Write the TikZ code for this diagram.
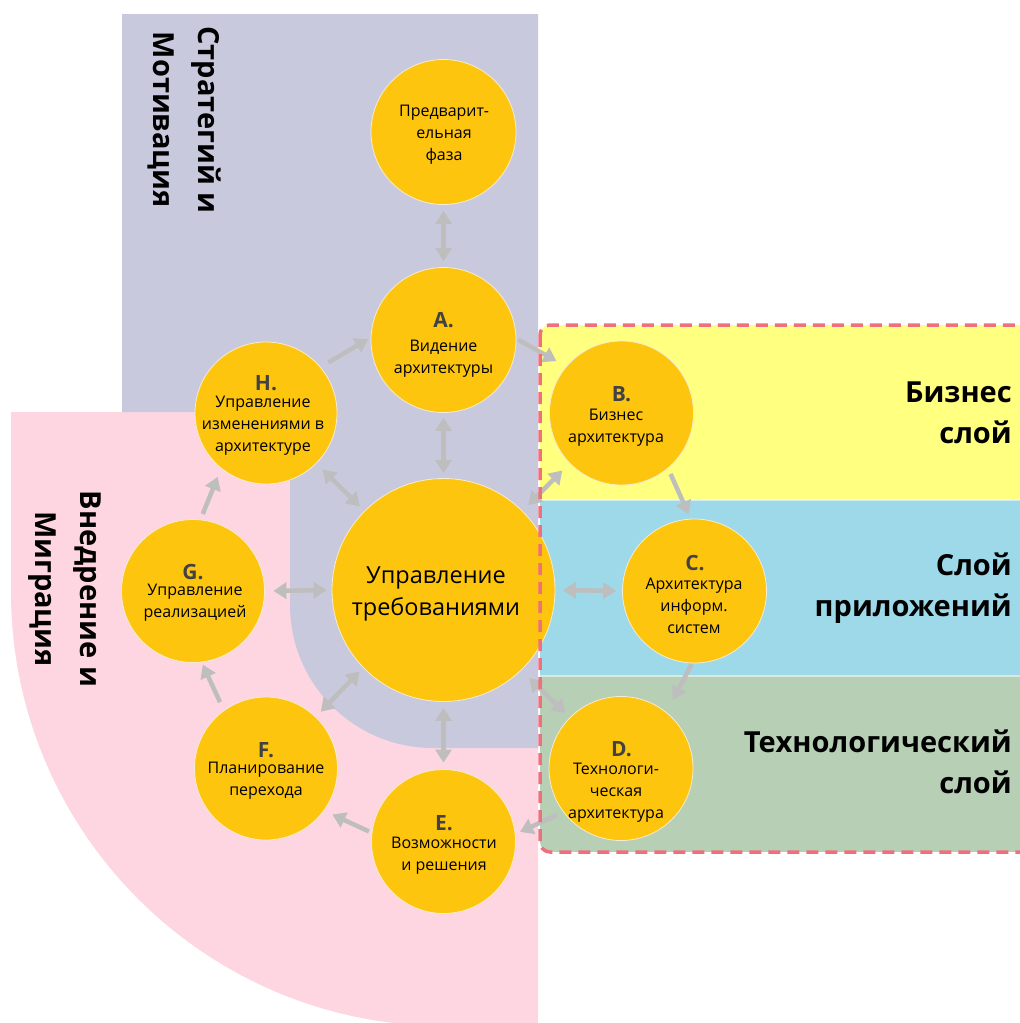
\documentclass[tikz,border=0pt]{standalone}
\usepackage{fontspec}
\setmainfont{Open Sans}
\usetikzlibrary{arrows.meta}

\definecolor{lav}{RGB}{201,201,222}
\definecolor{rose}{RGB}{253,214,225}
\definecolor{bizY}{RGB}{255,255,128}
\definecolor{appB}{RGB}{157,217,232}
\definecolor{techG}{RGB}{182,207,181}
\definecolor{discY}{RGB}{254,197,14}
\definecolor{discEdge}{RGB}{246,236,210}
\definecolor{arrowgray}{RGB}{190,190,190}
\definecolor{dashred}{RGB}{239,112,124}
\definecolor{lettergray}{RGB}{66,66,66}

\begin{document}
\begin{tikzpicture}[x=1pt,y=-1pt,
  disc/.style={circle,fill=discY,draw=discEdge,line width=0.8pt,minimum size=#1,inner sep=0pt},
  body/.style={font=\fontsize{16}{22}\selectfont,align=center,inner sep=0pt},
  bigbody/.style={font=\fontsize{23.5}{32}\selectfont,align=center,inner sep=0pt},
  letter/.style={font=\bfseries\fontsize{21}{24}\selectfont,text=lettergray,inner sep=0pt},
  layer/.style={font=\bfseries\fontsize{29}{41}\selectfont,align=right,anchor=east,inner sep=0pt},
  side/.style={font=\bfseries\fontsize{29}{45}\selectfont,align=center,rotate=-90,inner sep=0pt},
  arr/.style={draw=arrowgray,line width=4.5pt,-{Triangle[length=13pt,width=16pt]}},
  arrtwo/.style={draw=arrowgray,line width=4.5pt,{Triangle[length=13pt,width=16pt]}-{Triangle[length=13pt,width=16pt]}}
]
\useasboundingbox (0,0) rectangle (1020,1023);
\clip (0,0) rectangle (1020,1023);

% migration quarter (pink)
\begin{scope}
  \clip (11,412) rectangle (538,1023);
  \fill[rose] (11,412) rectangle (538,592);
  \fill[rose] (445,412) rectangle (538,1023);
  \fill[rose] (445,592) circle[radius=434];
\end{scope}

% strategy area (lavender)
\fill[lav] (122,14) -- (538,14) -- (538,748) -- (433,748)
  arc[start angle=90,end angle=180,radius=143] -- (290,412) -- (122,412) -- cycle;

% architecture layers
\begin{scope}
  \clip[rounded corners=10pt] (540,325) rectangle (1060,852);
  \fill[bizY] (540,325) rectangle (1060,500);
  \fill[appB] (540,500) rectangle (1060,676);
  \fill[techG] (540,676) rectangle (1060,852);
  \draw[white,opacity=0.5,line width=1.5pt] (540,500) -- (1060,500) (540,676) -- (1060,676);
\end{scope}

% phases
\node[disc=145pt] (P) at (443.5,132) {};
\node[disc=145pt] (A) at (443.5,340) {};
\node[disc=142pt] (H) at (266,413) {};
\node[disc=144pt] (B) at (621.5,413) {};
\node[disc=223pt] (R) at (443.5,590) {};
\node[disc=144pt] (C) at (694.5,591) {};
\node[disc=144pt] (D) at (621,768.5) {};
\node[disc=144pt] (E) at (443.5,841.5) {};
\node[disc=143pt] (F) at (266,768.5) {};
\node[disc=143pt] (G) at (193,591) {};

% phase texts
\node[body] (P-t) at (444,135) {Предварит-\\ельная\\фаза};
\node[letter] (A-l) at (443.5,320) {A.};
\node[body] (A-t) at (443.5,359) {Видение\\архитектуры};
\node[letter] (H-l) at (266,383) {H.};
\node[body] (H-t) at (263,426) {Управление\\изменениями в\\архитектуре};
\node[letter] (B-l) at (621.5,394) {B.};
\node[body] (B-t) at (616,428) {Бизнес\\архитектура};
\node[bigbody] (R-t) at (436,594) {Управление\\требованиями};
\node[letter] (C-l) at (695,563) {C.};
\node[body] (C-t) at (694,606) {Архитектура\\информ.\\систем};
\node[letter] (D-l) at (621.5,749) {D.};
\node[body] (D-t) at (616,793) {Технологи-\\ческая\\архитектура};
\node[letter] (E-l) at (444,823) {E.};
\node[body] (E-t) at (444,856) {Возможности\\и решения};
\node[letter] (F-l) at (266,750) {F.};
\node[body] (F-t) at (266,781) {Планирование\\перехода};
\node[letter] (G-l) at (193,572) {G.};
\node[body] (G-t) at (195,603) {Управление\\реализацией};

% connectors
\draw[arrtwo,shorten <=6pt,shorten >=6pt] (P.-90) -- (A.90);
\draw[arrtwo,shorten <=5pt,shorten >=5pt] (A.-90) -- (R.90);
\draw[arr,shorten <=9pt,shorten >=3pt] (H.40) -- (A.178);
\draw[arr,shorten <=2pt,shorten >=11pt] (A.1) -- (B.140);
\draw[arrtwo,shorten <=10pt,shorten >=8pt] (B.224.6) -- (R.45.2);
\draw[arr,shorten <=6pt,shorten >=5pt] (B.-50) -- (C.93.5);
\draw[arrtwo,shorten <=7.5pt,shorten >=6pt] (R.0) -- (C.180);
\draw[arr,shorten <=1pt,shorten >=14pt] (C.-92.4) -- (D.51);
\draw[arrtwo,shorten <=11pt,shorten >=6pt] (R.-46.4) -- (D.135.8);
\draw[arr,shorten <=7pt,shorten >=5pt] (D.217.3) -- (E.6.4);
\draw[arrtwo,shorten <=6pt,shorten >=6.5pt] (R.-90) -- (E.90);
\draw[arr,shorten <=3pt,shorten >=9pt] (E.173.4) -- (F.-36.7);
\draw[arrtwo,shorten <=7pt,shorten >=5pt] (F.46.4) -- (R.224.4);
\draw[arr,shorten <=9pt,shorten >=2.5pt] (F.126.7) -- (G.-83);
\draw[arrtwo,shorten <=8.5pt,shorten >=5pt] (G.0) -- (R.180);
\draw[arr,shorten <=6pt,shorten >=9pt] (G.84.9) -- (H.231.3);
\draw[arrtwo,shorten <=8.5pt,shorten >=6.5pt] (H.-45.7) -- (R.135);

% layer frame
\draw[dashred,line width=3.5pt,dash pattern=on 12pt off 7pt,rounded corners=10pt]
  (540,325) rectangle (1060,852);

% layer and area captions
\node[layer] (biz) at (1012,413) {Бизнес\\слой};
\node[layer] (app) at (1012,588) {Слой\\приложений};
\node[layer] (tech) at (1012,762) {Технологический\\слой};
\node[side] (strat) at (184,120) {Стратегий и\\Мотивация};
\node[side] (migr) at (65,589) {Внедрение и\\Миграция};
\end{tikzpicture}
\end{document}
